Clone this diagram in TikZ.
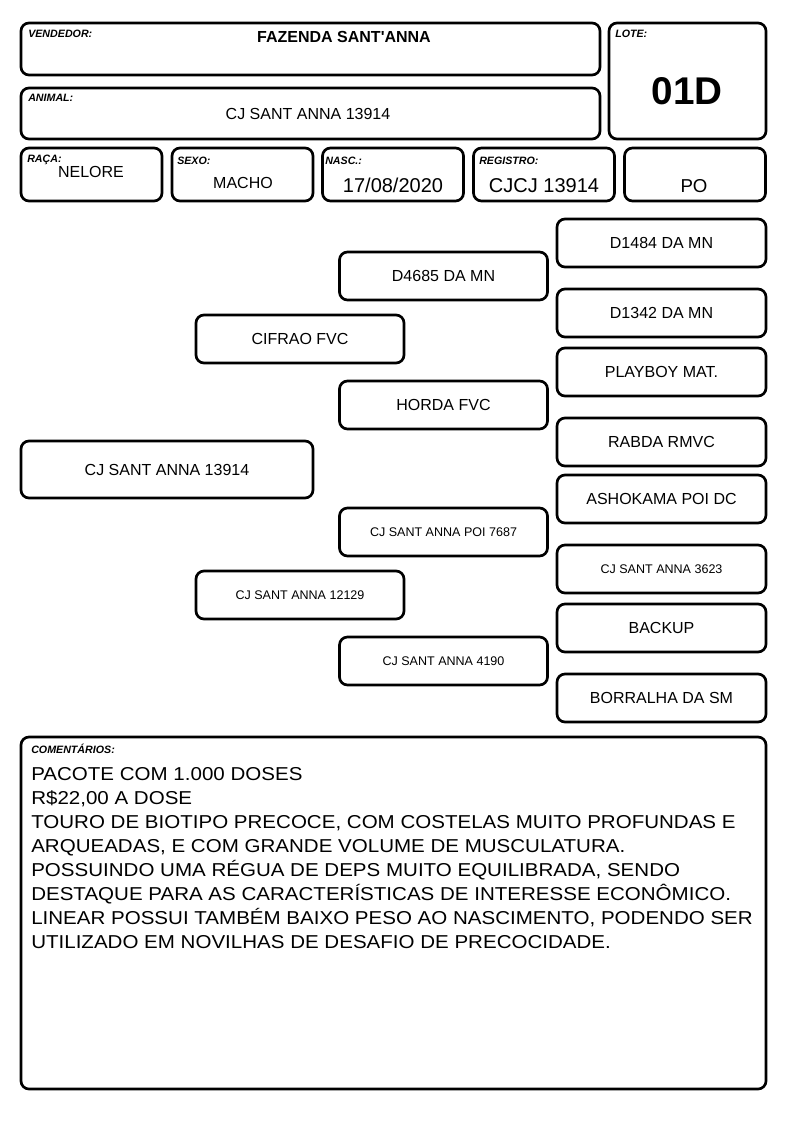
\documentclass[tikz,border=0pt]{standalone}
\usepackage{fontspec}
\setmainfont{Liberation Sans}
\newfontfamily\textolargo[FakeStretch=1.1]{Liberation Sans}
\begin{document}
\begin{tikzpicture}[x=0.75pt, y=-0.75pt,
    caixa/.style={draw, line width=2pt, rounded corners=6pt, inner sep=0pt, align=center, font=\fontsize{12}{14}\selectfont},
    rotulo/.style={anchor=base west, inner sep=0pt, font=\fontsize{8}{9}\selectfont\bfseries\itshape},
    valor/.style={anchor=base, inner sep=0pt, font=\fontsize{12}{14}\selectfont},
    pequeno/.style={font=\fontsize{9.4}{11}\selectfont},
    meio/.style={caixa, minimum width=156pt, minimum height=36pt},
    pai/.style={caixa, minimum width=156.75pt, minimum height=36pt}]
            \useasboundingbox (0,0) rectangle (794,1123);

            % Cabecalho
            \node[caixa, minimum width=434.25pt, minimum height=39pt] (vendedor) at (310.5,49) {};
            \node[caixa, minimum width=117.75pt, minimum height=87pt] (lote) at (687.5,81) {};
            \node[caixa, minimum width=434.25pt, minimum height=38.25pt] (animal) at (310.5,113.5) {};
            \node[caixa, minimum width=105.75pt, minimum height=39.75pt] (raca) at (91.5,174.5) {};
            \node[caixa, minimum width=105.75pt, minimum height=39.75pt] (sexo) at (242.5,174.5) {};
            \node[caixa, minimum width=105.75pt, minimum height=39.75pt] (nasc) at (393,174.5) {};
            \node[caixa, minimum width=105.75pt, minimum height=39.75pt] (registro) at (544,174.5) {};
            \node[caixa, minimum width=105.75pt, minimum height=39.75pt] (po) at (695,174.5) {};

            % Rotulos
            \node[rotulo] (rvendedor) at (28,38) {VENDEDOR:};
            \node[rotulo] (rlote) at (615,38) {LOTE:};
            \node[rotulo] (ranimal) at (28,102) {ANIMAL:};
            \node[rotulo] (rraca) at (27,163) {RAÇA:};
            \node[rotulo] (rsexo) at (177,165) {SEXO:};
            \node[rotulo] (rnasc) at (325,165) {NASC.:};
            \node[rotulo] (rregistro) at (479,165) {REGISTRO:};

            % Valores
            \node[valor, font=\fontsize{12}{14}\selectfont\bfseries] (tvendedor) at (344,43) {FAZENDA SANT\textquotesingle ANNA};
            \node[valor, font=\fontsize{29}{32}\selectfont\bfseries] (tlote) at (687,105) {01D};
            \node[valor] (tanimal) at (308,120) {CJ SANT ANNA 13914};
            \node[valor] (traca) at (91,178) {NELORE};
            \node[valor] (tsexo) at (243,189) {MACHO};
            \node[valor, font=\fontsize{15}{17}\selectfont] (tnasc) at (393,193) {17/08/2020};
            \node[valor, font=\fontsize{15}{17}\selectfont] (tregistro) at (544,193) {CJCJ 13914};
            \node[valor, font=\fontsize{14}{16}\selectfont] (tpo) at (694,193) {PO};

            % Genealogia
            \node[caixa, minimum width=219pt, minimum height=42.75pt] (touro) at (167,469.5) {CJ SANT ANNA 13914};
            \node[meio] (pai) at (300,339) {CIFRAO FVC};
            \node[meio, pequeno] (mae) at (300,595) {CJ SANT ANNA 12129};
            \node[meio] (avo1) at (443.5,276) {D4685 DA MN};
            \node[meio] (avo2) at (443.5,405) {HORDA FVC};
            \node[meio, pequeno] (avo3) at (443.5,532) {CJ SANT ANNA POI 7687};
            \node[meio, pequeno] (avo4) at (443.5,661) {CJ SANT ANNA 4190};
            \node[pai] (bisavo1) at (661.5,243) {D1484 DA MN};
            \node[pai] (bisavo2) at (661.5,313) {D1342 DA MN};
            \node[pai] (bisavo3) at (661.5,372) {PLAYBOY MAT.};
            \node[pai] (bisavo4) at (661.5,442) {RABDA RMVC};
            \node[pai] (bisavo5) at (661.5,499) {ASHOKAMA POI DC};
            \node[pai, pequeno] (bisavo6) at (661.5,569) {CJ SANT ANNA 3623};
            \node[pai] (bisavo7) at (661.5,628) {BACKUP};
            \node[pai] (bisavo8) at (661.5,698) {BORRALHA DA SM};

            % Comentarios
            \node[caixa, minimum width=558.75pt, minimum height=264pt] (comentarios) at (393.5,913) {};
            \node[rotulo] (rcomentarios) at (31,753) {COMENTÁRIOS:};
            \node[anchor=north west, inner sep=0pt, align=left, font=\textolargo\fontsize{14}{18}\selectfont] (tcomentarios) at (31,767) {PACOTE COM 1.000 DOSES\\
                R\$22,00 A DOSE\\
                TOURO DE BIOTIPO PRECOCE, COM COSTELAS MUITO PROFUNDAS E\\
                ARQUEADAS, E COM GRANDE VOLUME DE MUSCULATURA.\\
                POSSUINDO UMA RÉGUA DE DEPS MUITO EQUILIBRADA, SENDO\\
                DESTAQUE PARA AS CARACTERÍSTICAS DE INTERESSE ECONÔMICO.\\
                LINEAR POSSUI TAMBÉM BAIXO PESO AO NASCIMENTO, PODENDO SER\\
                UTILIZADO EM NOVILHAS DE DESAFIO DE PRECOCIDADE.};
        \end{tikzpicture}
\end{document}
